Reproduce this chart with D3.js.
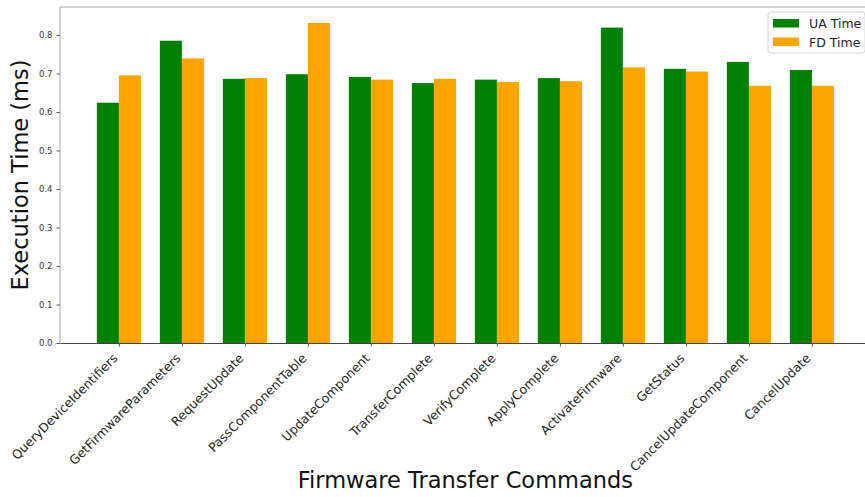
<!DOCTYPE html>
<html>
<head>
<meta charset="utf-8">
<script src="https://cdn.jsdelivr.net/npm/d3@7"></script>
<style>
  body { margin: 0; background: #fff; }
  svg { display: block; font-family: "DejaVu Sans", sans-serif; }
</style>
</head>
<body>
<div id="chart"></div>
<script>
const commands = ["QueryDeviceIdentifiers", "GetFirmwareParameters", "RequestUpdate", "PassComponentTable",
  "UpdateComponent", "TransferComplete", "VerifyComplete", "ApplyComplete", "ActivateFirmware",
  "GetStatus", "CancelUpdateComponent", "CancelUpdate"];
const uaTime = [0.624, 0.785, 0.686, 0.698, 0.691, 0.675, 0.684, 0.688, 0.819, 0.712, 0.730, 0.709];
const fdTime = [0.695, 0.739, 0.688, 0.831, 0.684, 0.686, 0.678, 0.680, 0.716, 0.705, 0.668, 0.668];
const yTicks = [0.0, 0.1, 0.2, 0.3, 0.4, 0.5, 0.6, 0.7, 0.8];
const seriesNames = ["UA Time", "FD Time"];
const colors = ["#008000", "#ffa500"];

const width = 865, height = 497;
const margin = {top: 7, left: 60, bottom: 154};
const barW = 0.35;

const svg = d3.select("#chart").append("svg")
  .attr("width", width)
  .attr("height", height);

// matplotlib-like x limits: bars extend +-0.35, plus 5% margins
const lo = -barW, hi = commands.length - 1 + barW;
const pad = (hi - lo) * 0.05;
const step = 63;
const x = d3.scaleLinear()
  .domain([lo - pad, hi + pad])
  .range([margin.left, margin.left + (hi - lo + 2 * pad) * step]);

const yMax = d3.max(uaTime.concat(fdTime)) * 1.05;
const y = d3.scaleLinear()
  .domain([0, yMax])
  .range([height - margin.bottom, margin.top]);

// bars
const groups = [uaTime, fdTime];
groups.forEach((vals, s) => {
  svg.append("g").selectAll("rect")
    .data(vals)
    .enter().append("rect")
    .attr("x", (d, i) => s === 0 ? x(i - barW) : x(i))
    .attr("y", d => y(d))
    .attr("width", x(barW) - x(0))
    .attr("height", d => y(0) - y(d))
    .attr("fill", colors[s]);
});

// spines
const x0 = x.range()[0], x1 = x.range()[1];
svg.append("line").attr("x1", x0).attr("x2", x1).attr("y1", y(yMax)).attr("y2", y(yMax))
  .attr("stroke", "#a8a8a8").attr("stroke-width", 1);
svg.append("line").attr("x1", x0).attr("x2", x0).attr("y1", y(yMax)).attr("y2", y(0))
  .attr("stroke", "#a8a8a8").attr("stroke-width", 1);

// y axis
const yAxis = svg.append("g")
  .attr("transform", `translate(${x0},0)`)
  .call(d3.axisLeft(y).tickValues(yTicks).tickFormat(d3.format(".1f")).tickSize(3.5).tickPadding(4));
yAxis.select(".domain").remove();
yAxis.selectAll("line").attr("stroke", "#555");
yAxis.selectAll("text").attr("fill", "#333").style("font-size", "8.5px")
  .style("font-family", "DejaVu Sans");

// x axis
const xAxis = svg.append("g")
  .attr("transform", `translate(0,${y(0)})`)
  .call(d3.axisBottom(x).tickValues(d3.range(commands.length))
    .tickFormat((d, i) => commands[i]).tickSize(3.5).tickSizeOuter(0));
xAxis.select(".domain").attr("stroke", "#444");
xAxis.selectAll("line").attr("stroke", "#555");
xAxis.selectAll("text")
  .attr("fill", "#222")
  .style("font-size", "12.5px")
  .style("font-family", "DejaVu Sans")
  .attr("text-anchor", "end")
  .attr("dy", null)
  .attr("y", 0)
  .attr("transform", "translate(-1,16) rotate(-45)");

// axis titles
svg.append("text")
  .attr("x", (x0 + x1) / 2)
  .attr("y", 488)
  .attr("text-anchor", "middle")
  .style("font-size", "22.5px")
  .attr("fill", "#111")
  .text("Firmware Transfer Commands");

svg.append("text")
  .attr("transform", `translate(28,${(y(0) + y(yMax)) / 2}) rotate(-90)`)
  .attr("text-anchor", "middle")
  .style("font-size", "22.5px")
  .attr("fill", "#111")
  .text("Execution Time (ms)");

// legend
const legend = svg.append("g").attr("transform", "translate(768,12)");
legend.append("rect")
  .attr("width", 97).attr("height", 41).attr("rx", 3)
  .attr("fill", "#fff").attr("fill-opacity", 0.8)
  .attr("stroke", "#d6d6d6");
seriesNames.forEach((name, i) => {
  legend.append("rect")
    .attr("x", 5).attr("y", 7 + i * 18.5)
    .attr("width", 26).attr("height", 8.5)
    .attr("fill", colors[i]);
  legend.append("text")
    .attr("x", 41).attr("y", 16 + i * 18.5)
    .style("font-size", "12.5px")
    .attr("fill", "#222")
    .text(name);
});
</script>
</body>
</html>
